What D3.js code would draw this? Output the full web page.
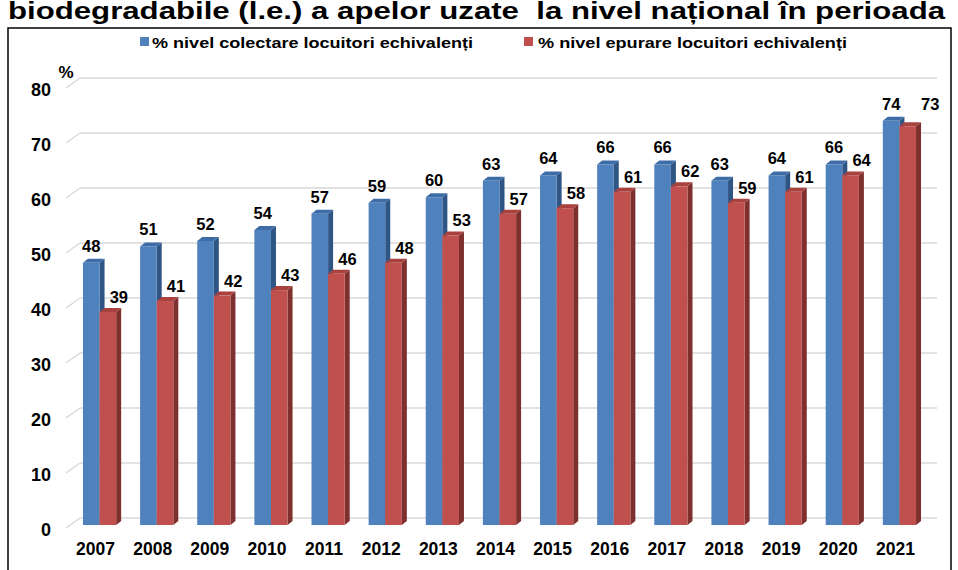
<!DOCTYPE html>
<html><head><meta charset="utf-8">
<script src="https://cdn.jsdelivr.net/npm/d3@7"></script>
<style>body{margin:0;background:#fff;}svg{display:block;font-family:"Liberation Sans",Arial,sans-serif;}</style>
</head><body>
<svg id="c" width="958" height="570"></svg>
<script>
const years = ["2007","2008","2009","2010","2011","2012","2013","2014","2015","2016","2017","2018","2019","2020","2021"];
const colectare = [48,51,52,54,57,59,60,63,64,66,66,63,64,66,74];
const epurare = [39,41,42,43,46,48,53,57,58,61,62,59,61,64,73];
const yTicks = [0,10,20,30,40,50,60,70,80];
const seriesNames = ["% nivel colectare locuitori echivalenți","% nivel epurare locuitori echivalenți"];
const titleText = "biodegradabile (l.e.) a apelor uzate  la nivel național în perioada";

const svg = d3.select("#c");
const colors = [{front:"#4F81BD",top:"#3D6CA6",side:"#2F5585"},{front:"#C0504D",top:"#A9413E",side:"#7D302E"}];

// title (cut at top as in the source)
svg.append("text").attr("x",8).attr("y",18.5).attr("font-size",24).attr("font-weight","bold")
  .style("white-space","pre")
  .attr("textLength",937).attr("lengthAdjust","spacingAndGlyphs").text(titleText);

// border
svg.append("rect").attr("x",8).attr("y",28).attr("width",943).attr("height",600)
  .attr("fill","none").attr("stroke","#000").attr("stroke-width",1.5);

const x = d3.scaleBand().domain(years).range([71,928]).padding(0);
const yF = d3.scaleLinear().domain([0,80]).range([525,88]);
const yB = d3.scaleLinear().domain([0,80]).range([518,78]);

// gridlines
const g = svg.append("g");
yTicks.forEach(t=>{
  g.append("line").attr("x1",66).attr("y1",yB(t)+10).attr("x2",80).attr("y2",yB(t)).attr("stroke","#d9d9d9").attr("stroke-width",1.5);
  g.append("line").attr("x1",80).attr("y1",yB(t)).attr("x2",937).attr("y2",yB(t)).attr("stroke","#d9d9d9").attr("stroke-width",1.5);
  svg.append("text").attr("x",51).attr("y",yB(t)+11.5).attr("text-anchor","end").attr("dominant-baseline","central")
    .attr("font-size",18).attr("font-weight","bold").attr("fill","#000").text(t);
});
svg.append("text").attr("x",66).attr("y",72).attr("text-anchor","middle").attr("dominant-baseline","central")
  .attr("font-size",17).attr("font-weight","bold").text("%");

const bw = 16.6, dx = 5, dy = 4;
function bar(x0, v, c){
  const yt = yF(v), yb = yF(0);
  svg.append("path").attr("d",`M${x0+bw},${yb} L${x0+bw+dx},${yb-dy} L${x0+bw+dx},${yt-dy} L${x0+bw},${yt} Z`).attr("fill",c.side);
  svg.append("path").attr("d",`M${x0},${yt} L${x0+dx},${yt-dy} L${x0+bw+dx},${yt-dy} L${x0+bw},${yt} Z`).attr("fill",c.top);
  svg.append("rect").attr("x",x0).attr("y",yt).attr("width",bw).attr("height",yb-yt).attr("fill",c.front);
}
years.forEach((yr,i)=>{
  const cx = x(yr)+x.bandwidth()/2;
  bar(cx-bw, colectare[i], colors[0]);
  bar(cx, epurare[i], colors[1]);
});
// labels
years.forEach((yr,i)=>{
  const cx = x(yr)+x.bandwidth()/2;
  const bx = cx-bw/2, by = yF(colectare[i])-17;
  let rx = cx+bw/2+11, ry = yF(epurare[i])-15;
  if (Math.abs(ry-by) < 9) { ry = by; rx = bx + 39; }
  svg.append("text").attr("x",bx).attr("y",by).attr("text-anchor","middle").attr("dominant-baseline","central")
    .attr("font-size",16.5).attr("font-weight","bold").text(colectare[i]);
  svg.append("text").attr("x",rx).attr("y",ry).attr("text-anchor","middle").attr("dominant-baseline","central")
    .attr("font-size",16.5).attr("font-weight","bold").text(epurare[i]);
  svg.append("text").attr("x",cx-4).attr("y",549).attr("text-anchor","middle").attr("dominant-baseline","central")
    .attr("font-size",17.5).attr("font-weight","bold").text(yr);
});

// legend
const leg = [{sx:140,tx:152,w:321},{sx:524,tx:538,w:309}];
seriesNames.forEach((n,i)=>{
  svg.append("rect").attr("x",leg[i].sx).attr("y",37).attr("width",9).attr("height",9).attr("fill",colors[i].front);
  svg.append("text").attr("x",leg[i].tx).attr("y",42).attr("dominant-baseline","central").attr("font-size",15)
    .attr("font-weight","bold").attr("textLength",leg[i].w).attr("lengthAdjust","spacingAndGlyphs").text(n);
});
</script>
</body></html>
